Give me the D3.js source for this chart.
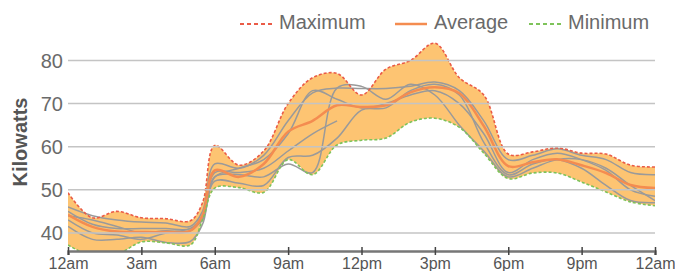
<!DOCTYPE html>
<html>
<head>
<meta charset="utf-8">
<script src="https://cdn.jsdelivr.net/npm/d3@7"></script>
<style>
body { margin: 0; background: #fff; }
svg { font-family: "Liberation Sans", Arial, sans-serif; }
</style>
</head>
<body>
<div id="mainDiv"></div>
<script>

// hours of the day (0 = 12am, 24 = next 12am)
var hours = [0,1,2,3,4,5,5.5,6,7,8,9,10,11,12,13,14,15,16,17,18,19,20,21,22,23,24];

var maxValues = [49.3,43.5,45,43.5,43.3,42.8,47,60.3,55.7,59,70,76,77,72,78,80,84,76,72,58.3,58.8,59.7,58.5,58.3,55.7,55.3];
var minValues = [37.2,34.6,35,37.9,37.7,37.2,43,50.4,50.5,49.4,57,53.5,60.4,61.5,62,65.7,66.6,64.5,58.5,52.6,53.9,53.9,51.8,49.5,47.2,46.3];
var avgValues = [44.2,41.4,40.3,40.2,40.2,40.5,44,54.5,53,56,63.5,66,69.6,69.2,69.6,72.6,73.8,72.4,64.8,55.5,56.4,57.1,55.7,53.9,51.1,50.4];

// single days (grey)
var dayValues = [
    [46,44,43,42.5,42.3,41.5,45,56,55,58,66,72.5,73.6,73.5,73.5,74,75,73,66,57,58,59.5,58,57,54,53.5],
    [45,42,41,41,41,41,44,53,55,57,63,73,71,69,70,72,73,70,63,54,57,58.5,57,54.5,50,48.5],
    [43,40,39.5,38.5,40,41,43,53,53.5,53,56,54,73.6,74,71,74.5,72,65,59,53,55,57,57,55,51,47.5],
    [41.5,38.5,38.5,39,37.8,38,42,52,51.5,51,57.5,58,62,68.5,69,73,74.5,72,61,53.5,56,57,55,51,47.5,47],
    [44,43,41.5,40,40.5,40.5,43.5,54,54,55,59,63,66,null,null,null,null,null,null,null,null,null,null,null,null,null]
];

var yTicks = [40,50,60,70,80];
var xTickHours = [0,3,6,9,12,15,18,21,24];
var xTickLabels = ["12am","3am","6am","9am","12pm","3pm","6pm","9pm","12am"];

var legendNames = ["Maximum","Average","Minimum"];

var maxColor = "#ea5b47";
var avgColor = "#f48c50";
var minColor = "#7ec35a";
var bandColor = "#fdc472";

var width = 675, height = 271;
var plotLeft = 68, plotRight = 655, axisY = 251;

function drawChart(){

    var svg = d3.select("#mainDiv").append("svg")
        .attr("width", width).attr("height", height).attr("id", "mainCanvas");

    var x = d3.scaleLinear().domain([0, 24]).range([plotLeft, plotRight]);
    var y = d3.scaleLinear().domain([35.8, 80]).range([axisY, 60.5]);

    svg.append("clipPath").attr("id", "plotClip")
        .append("rect").attr("x", plotLeft).attr("y", 0)
        .attr("width", plotRight - plotLeft).attr("height", axisY);

    var plot = svg.append("g").attr("clip-path", "url(#plotClip)");

    // band between min and max
    var band = d3.area()
        .x(function(d, i){ return x(hours[i]); })
        .y0(function(d, i){ return y(minValues[i]); })
        .y1(function(d){ return y(d); })
        .curve(d3.curveCatmullRom);

    plot.append("path").datum(maxValues)
        .attr("d", band).attr("fill", bandColor);

    // grid lines sit on top of the band
    var grid = svg.append("g");
    grid.selectAll("line").data(yTicks).enter().append("line")
        .attr("x1", plotLeft).attr("x2", plotRight)
        .attr("y1", function(d){ return y(d); })
        .attr("y2", function(d){ return y(d); })
        .attr("stroke", "#c4c4c4").attr("stroke-width", 1.5);

    grid.selectAll("text").data(yTicks).enter().append("text")
        .attr("x", 63).attr("y", function(d){ return y(d); })
        .attr("dy", "0.35em").attr("text-anchor", "end")
        .attr("font-size", 20).attr("fill", "#6a6a6a")
        .text(function(d){ return d; });

    var line = d3.line()
        .defined(function(d){ return d != null; })
        .x(function(d, i){ return x(hours[i]); })
        .y(function(d){ return y(d); })
        .curve(d3.curveCatmullRom);

    // grey day lines
    for(var i = 0; i < dayValues.length; i++){
        plot.append("path").datum(dayValues[i])
            .attr("d", line).attr("fill", "none")
            .attr("stroke", "#9a9a9a").attr("stroke-width", 1.5);
    }

    plot.append("path").datum(avgValues)
        .attr("d", line).attr("fill", "none")
        .attr("stroke", avgColor).attr("stroke-width", 2.5);

    plot.append("path").datum(maxValues)
        .attr("d", line).attr("fill", "none")
        .attr("stroke", maxColor).attr("stroke-width", 1.6)
        .attr("stroke-dasharray", "3,2");

    plot.append("path").datum(minValues)
        .attr("d", line).attr("fill", "none")
        .attr("stroke", minColor).attr("stroke-width", 1.6)
        .attr("stroke-dasharray", "3,2");

    // x axis
    var xAxis = d3.axisBottom(x)
        .tickValues(xTickHours)
        .tickSize(4)
        .tickFormat(function(d, i){ return xTickLabels[i]; });

    var ax = svg.append("g").attr("transform", "translate(0," + axisY + ")").call(xAxis);
    ax.select(".domain").attr("stroke", "#777").attr("stroke-width", 2.5);
    ax.selectAll(".tick line").attr("stroke", "#444").attr("stroke-width", 1.5).attr("y1", -4);
    ax.selectAll(".tick text").attr("font-size", 16).attr("fill", "#555")
        .attr("font-family", "Liberation Sans, Arial, sans-serif").attr("y", 7).attr("dy", "0.71em");

    // y axis title
    svg.append("text")
        .attr("transform", "translate(27,142) rotate(-90)")
        .attr("text-anchor", "middle").attr("font-size", 20).attr("font-weight", "bold")
        .attr("fill", "#555").text("Kilowatts");

    // legend
    var legendX = [240, 395, 529];
    var legendColors = [maxColor, avgColor, minColor];
    var legendDash = ["4,3", null, "4,3"];
    var legend = svg.append("g");
    for(var j = 0; j < legendNames.length; j++){
        legend.append("line")
            .attr("x1", legendX[j]).attr("x2", legendX[j] + 32)
            .attr("y1", 24).attr("y2", 24)
            .attr("stroke", legendColors[j])
            .attr("stroke-width", j == 1 ? 2.5 : 2)
            .attr("stroke-dasharray", legendDash[j]);
        legend.append("text")
            .attr("x", legendX[j] + 39).attr("y", 29)
            .attr("font-size", 20).attr("fill", "#6a6a6a")
            .text(legendNames[j]);
    }
}

drawChart();
</script>
</body>
</html>
